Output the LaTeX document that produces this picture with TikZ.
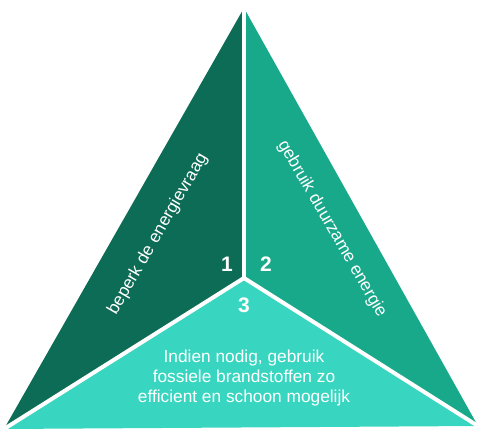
\documentclass[tikz,border=0pt]{standalone}
\usepackage{fontspec}
\setmainfont{Liberation Sans}
\definecolor{cleft}{RGB}{12,108,86}
\definecolor{cright}{RGB}{24,168,138}
\definecolor{cbottom}{RGB}{56,214,192}
\begin{document}
\begin{tikzpicture}[x=1pt,y=-1pt,
  sep/.style={draw=white,line width=4pt},
  lbl/.style={text=white,font=\fontsize{17.3}{20.2}\selectfont,align=center,inner sep=0pt},
  num/.style={text=white,font=\fontsize{21}{23}\selectfont\bfseries,inner sep=0pt}]
\useasboundingbox (0,0) rectangle (477,430);
\coordinate (A) at (244,8);
\coordinate (L) at (4,429);
\coordinate (R) at (478,426);
\coordinate (C) at (244,278);
\fill[cleft] (A) -- (C) -- (L) -- cycle;
\fill[cright] (A) -- (R) -- (C) -- cycle;
\fill[cbottom] (L) -- (C) -- (R) -- cycle;
\draw[sep] (C) -- (A);
\draw[sep] (C) -- (L);
\draw[sep] (C) -- (R);
\node[lbl,rotate=60] (t1) at (158,234) {beperk de energievraag};
\node[lbl,rotate=-60] (t2) at (332,229) {gebruik duurzame energie};
\node[lbl] (t3) at (244,378) {Indien nodig, gebruik\\fossiele brandstoffen zo\\efficient en schoon mogelijk};
\node[num] (n1) at (227,264) {1};
\node[num] (n2) at (266,264) {2};
\node[num] (n3) at (244,305) {3};
\end{tikzpicture}
\end{document}
